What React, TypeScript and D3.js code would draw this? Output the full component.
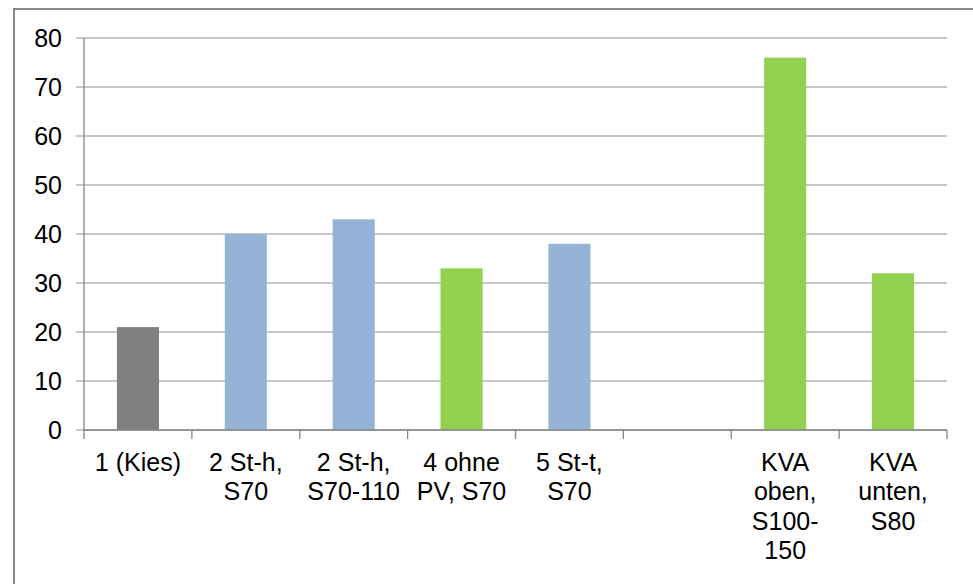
import * as d3 from "d3";

const categories = [
  ["1 (Kies)"],
  ["2 St-h,", "S70"],
  ["2 St-h,", "S70-110"],
  ["4 ohne", "PV, S70"],
  ["5 St-t,", "S70"],
  [""],
  ["KVA", "oben,", "S100-", "150"],
  ["KVA", "unten,", "S80"],
];
const values: (number | null)[] = [21, 40, 43, 33, 38, null, 76, 32];
const barColors = ["#808080", "#95b3d7", "#95b3d7", "#92d050", "#95b3d7", "#95b3d7", "#92d050", "#92d050"];
const yTicks = [0, 10, 20, 30, 40, 50, 60, 70, 80];

const W = 973;
const H = 584;
const left = 84;
const right = 947;
const top = 38;
const bottom = 430;
const font = "'Liberation Sans', Arial, sans-serif";
const fs = 25;

export default function App() {
  const idx = categories.map((_, i) => String(i));
  const x = d3.scaleBand().domain(idx).range([left, right]).paddingInner(0.61).paddingOuter(0.305);
  const y = d3.scaleLinear().domain([0, 80]).range([bottom, top]);
  const step = x.step();
  const tickXs = d3.range(categories.length + 1).map((i) => left + i * step);

  return (
    <svg width={W} height={H} style={{ position: "absolute", left: 0, top: 0, background: "#fff" }}>
      {/* outer frame */}
      <rect x={14} y={9} width={W} height={H} fill="none" stroke="#888" strokeWidth={2} />

      {/* gridlines */}
      {yTicks.map((t) => (
        <line key={t} x1={left - 8} x2={right} y1={y(t)} y2={y(t)} stroke="#b3b3b3" strokeWidth={1.3} />
      ))}
      {yTicks.map((t) => (
        <text key={"l" + t} x={62} y={y(t)} dy="0.36em" textAnchor="end" fontFamily={font} fontSize={fs} fill="#000">
          {t}
        </text>
      ))}

      {/* bars */}
      {values.map((v, i) =>
        v == null ? null : (
          <rect
            key={i}
            x={x(String(i))}
            y={y(v)}
            width={x.bandwidth()}
            height={y(0) - y(v)}
            fill={barColors[i]}
          />
        )
      )}

      {/* axes */}
      <line x1={left} x2={left} y1={top} y2={bottom} stroke="#868686" strokeWidth={1.3} />
      <line x1={left} x2={right} y1={bottom} y2={bottom} stroke="#868686" strokeWidth={1.3} />
      {tickXs.map((tx, i) => (
        <line key={"t" + i} x1={tx} x2={tx} y1={bottom} y2={bottom + 9} stroke="#868686" strokeWidth={1.3} />
      ))}

      {/* category labels */}
      {categories.map((lines, i) => (
        <text
          key={"c" + i}
          x={(x(String(i)) ?? 0) + x.bandwidth() / 2}
          y={471}
          textAnchor="middle"
          fontFamily={font}
          fontSize={fs}
          fill="#000"
        >
          {lines.map((ln, j) => (
            <tspan key={j} x={(x(String(i)) ?? 0) + x.bandwidth() / 2} dy={j === 0 ? 0 : 29.3}>
              {ln}
            </tspan>
          ))}
        </text>
      ))}
    </svg>
  );
}
